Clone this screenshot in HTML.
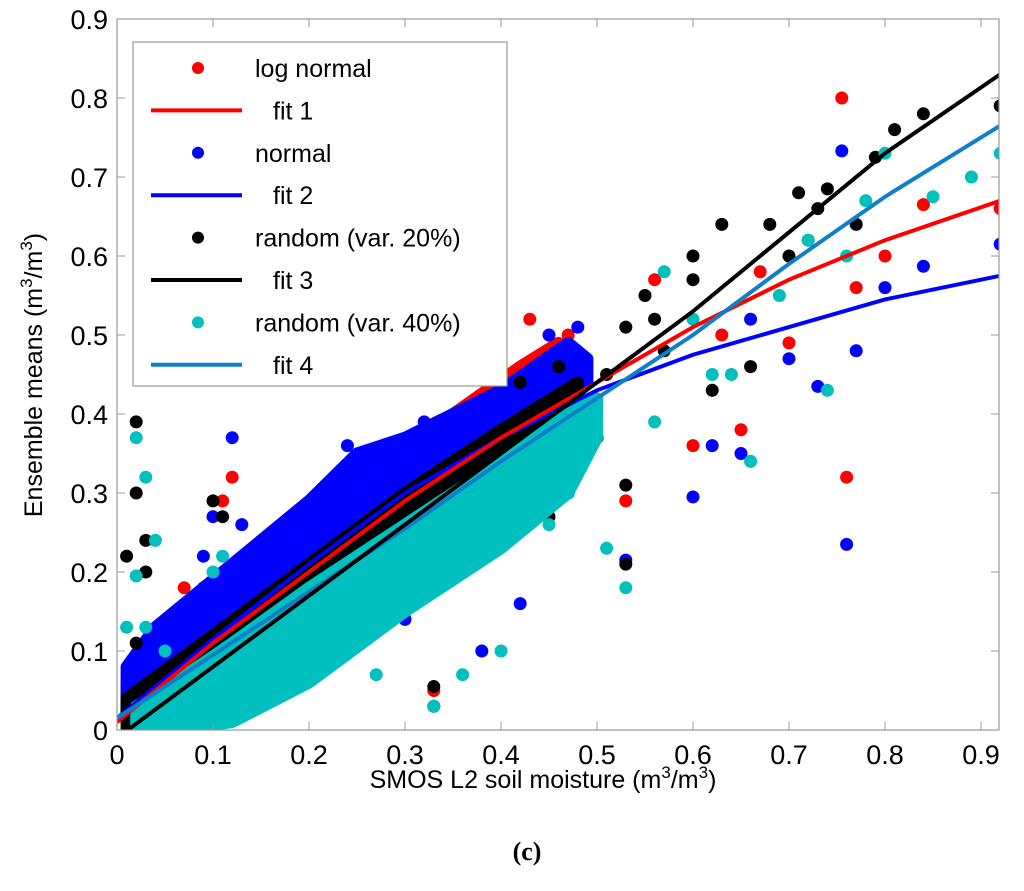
<!DOCTYPE html>
<html><head><meta charset="utf-8"><style>
body{margin:0;background:#fff;}
svg{display:block;font-family:"Liberation Sans",Arial,sans-serif;}
</style></head><body>
<svg id="chart" width="1024" height="891" viewBox="0 0 1024 891">
<defs><clipPath id="pc"><rect x="117" y="19" width="882" height="711"/></clipPath></defs>
<g id="plot" clip-path="url(#pc)"></g>
<rect x="117" y="19" width="882" height="711" fill="none" stroke="#999" stroke-width="1.2"/>
<g id="axes"></g>
<text x="543" y="788" font-size="25" text-anchor="middle">SMOS L2 soil moisture (m<tspan dy="-10" font-size="17">3</tspan><tspan dy="10">/m</tspan><tspan dy="-10" font-size="17">3</tspan><tspan dy="10">)</tspan></text>
<text transform="translate(42,375) rotate(-90)" font-size="25" text-anchor="middle">Ensemble means (m<tspan dy="-10" font-size="17">3</tspan><tspan dy="10">/m</tspan><tspan dy="-10" font-size="17">3</tspan><tspan dy="10">)</tspan></text>
<text x="527" y="860" font-size="26" font-weight="bold" text-anchor="middle" font-family="Liberation Serif,serif">(c)</text>
<g id="legend"></g>
</svg>
<script>
const ticks=[0,0.1,0.2,0.3,0.4,0.5,0.6,0.7,0.8,0.9];
const tickLabels=["0","0.1","0.2","0.3","0.4","0.5","0.6","0.7","0.8","0.9"];
const fitX=[0,0.1,0.2,0.3,0.4,0.5,0.6,0.7,0.8,0.92];
const fit1=[0.01,0.11,0.2,0.29,0.37,0.44,0.51,0.57,0.62,0.67];
const fit2=[0.015,0.115,0.21,0.30,0.37,0.43,0.475,0.51,0.545,0.575];
const fit3=[-0.01,0.08,0.17,0.26,0.35,0.44,0.53,0.63,0.73,0.83];
const fit4=[0.015,0.095,0.175,0.255,0.34,0.42,0.5,0.59,0.675,0.765];
const redBandX=[0.01,0.05,0.1,0.2,0.25,0.35,0.42,0.46,0.48];
const redBandUp=[0.06,0.12,0.19,0.29,0.33,0.4,0.46,0.49,0.47];
const redBandLo=[0.01,0.04,0.09,0.18,0.23,0.32,0.38,0.42,0.44];
const blueBandX=[0.01,0.04,0.1,0.2,0.25,0.3,0.4,0.47,0.49];
const blueBandUp=[0.08,0.13,0.19,0.29,0.35,0.37,0.43,0.49,0.47];
const blueBandLo=[0.01,0.04,0.08,0.17,0.22,0.27,0.36,0.42,0.44];
const blackBandX=[0.01,0.1,0.2,0.3,0.4,0.48];
const blackBandUp=[0.04,0.12,0.21,0.3,0.38,0.44];
const blackBandLo=[0.0,0.07,0.16,0.25,0.34,0.42];
const cyanBandX=[0.02,0.06,0.12,0.2,0.3,0.4,0.47,0.5];
const cyanBandUp=[0.03,0.06,0.11,0.18,0.26,0.34,0.4,0.42];
const cyanBandLo=[0.0,0.0,0.01,0.06,0.15,0.23,0.3,0.37];
const redX=[0.755,0.76,0.84,0.92,0.77,0.8,0.65,0.6,0.53,0.12,0.11,0.33,0.7,0.63,0.72,0.67,0.56,0.43,0.47,0.02,0.07,0.09];
const redY=[0.80,0.32,0.665,0.66,0.56,0.6,0.38,0.36,0.29,0.32,0.29,0.05,0.49,0.5,0.62,0.58,0.57,0.52,0.5,0.05,0.18,0.18];
const blueX=[0.76,0.755,0.92,0.84,0.8,0.73,0.77,0.6,0.65,0.53,0.12,0.13,0.09,0.42,0.38,0.1,0.66,0.62,0.7,0.45,0.48,0.24,0.32,0.02,0.3];
const blueY=[0.235,0.733,0.615,0.587,0.56,0.435,0.48,0.295,0.35,0.215,0.37,0.26,0.22,0.16,0.1,0.27,0.52,0.36,0.47,0.5,0.51,0.36,0.39,0.06,0.14];
const blackX=[0.92,0.84,0.81,0.79,0.74,0.71,0.73,0.68,0.63,0.6,0.55,0.53,0.51,0.6,0.46,0.42,0.02,0.02,0.03,0.03,0.01,0.02,0.1,0.11,0.33,0.33,0.53,0.45,0.47,0.53,0.5,0.57,0.77,0.66,0.62,0.56,0.7];
const blackY=[0.79,0.78,0.76,0.725,0.685,0.68,0.66,0.64,0.64,0.6,0.55,0.51,0.45,0.57,0.46,0.44,0.39,0.3,0.24,0.2,0.22,0.11,0.29,0.27,0.055,0.03,0.21,0.27,0.3,0.31,0.37,0.48,0.64,0.46,0.43,0.52,0.6];
const cyanX=[0.92,0.89,0.85,0.8,0.78,0.72,0.74,0.66,0.64,0.6,0.57,0.53,0.51,0.47,0.45,0.4,0.36,0.33,0.02,0.03,0.02,0.04,0.01,0.1,0.11,0.16,0.22,0.27,0.56,0.62,0.69,0.76,0.03,0.05];
const cyanY=[0.73,0.7,0.675,0.73,0.67,0.62,0.43,0.34,0.45,0.52,0.58,0.18,0.23,0.3,0.26,0.1,0.07,0.03,0.37,0.32,0.195,0.24,0.13,0.2,0.22,0.07,0.1,0.07,0.39,0.45,0.55,0.6,0.13,0.1];

const NS="http://www.w3.org/2000/svg";
const X0=117,PX=960,Y0=730,PY=790;
function sx(v){return X0+v*PX;}
function sy(v){return Y0-v*PY;}
function mk(tag,attrs,parent){const e=document.createElementNS(NS,tag);for(const k in attrs)e.setAttribute(k,attrs[k]);parent.appendChild(e);return e;}
const plot=document.getElementById('plot'),axes=document.getElementById('axes'),leg=document.getElementById('legend');

function band(bx,up,lo,col,name){
  let pts=[];for(let i=0;i<bx.length;i++)pts.push(sx(bx[i])+','+sy(up[i]));
  for(let i=bx.length-1;i>=0;i--)pts.push(sx(bx[i])+','+sy(lo[i]));
  const p=mk('polygon',{points:pts.join(' '),fill:col,stroke:col,'stroke-width':12,'stroke-linejoin':'round'},plot);
  
  
}
function dots(xs,ys,col,name){
  for(let i=0;i<xs.length;i++){
    const c=mk('circle',{cx:sx(xs[i]),cy:sy(ys[i]),r:6.5,fill:col},plot);
    
    
  }
}
function line(ys,col,name){
  const d=fitX.map((x,i)=>(i?'L':'M')+sx(x)+','+sy(ys[i])).join(' ');
  const p=mk('path',{d:d,fill:'none',stroke:col,'stroke-width':4},plot);
  
  
}
band(redBandX,redBandUp,redBandLo,'#ff0000','red-cloud');
dots(redX,redY,'#ff0000','red-point');
band(blueBandX,blueBandUp,blueBandLo,'#0000ff','blue-cloud');
dots(blueX,blueY,'#0000ff','blue-point');
band(blackBandX,blackBandUp,blackBandLo,'#000000','black-cloud');
dots(blackX,blackY,'#000000','black-point');
band(cyanBandX,cyanBandUp,cyanBandLo,'#00bfbf','cyan-cloud');
dots(cyanX,cyanY,'#00bfbf','cyan-point');
line(fit2,'#0000ff','fit-2-line');
line(fit1,'#ff0000','fit-1-line');
line(fit4,'#0f80c8','fit-4-line');
line(fit3,'#000000','fit-3-line');

ticks.forEach((t,i)=>{
  const x=sx(t),y=sy(t);
  const a=mk('path',{d:`M${x},730 v-8 M${x},19 v8 M117,${y} h8 M999,${y} h-8`,stroke:'#999','stroke-width':1},axes);
  
  
  const tx=mk('text',{x:x,y:764,'font-size':27,'text-anchor':'middle'},axes);tx.textContent=tickLabels[i];
  
  
  const ty=mk('text',{x:108,y:y+10,'font-size':27,'text-anchor':'end'},axes);ty.textContent=tickLabels[i];
  
  
});

const lb=mk('rect',{x:133,y:42,width:374,height:344,fill:'#fff',stroke:'#999','stroke-width':1.2},leg);


const legLabels=["log normal","fit 1","normal","fit 2","random (var. 20%)","fit 3","random (var. 40%)","fit 4"];
const legCols=['#ff0000','#ff0000','#0000ff','#0000ff','#000000','#000000','#00bfbf','#0f80c8'];
legLabels.forEach((lab,i)=>{
  const y=68+i*42.4,isLine=i%2==1;
  if(isLine){const l=mk('line',{x1:151,x2:242,y1:y,y2:y,stroke:legCols[i],'stroke-width':4},leg);
    
    }
  else{const c=mk('circle',{cx:198,cy:y,r:6,fill:legCols[i]},leg);
    
    }
  const t=mk('text',{x:isLine?273:255,y:y+9,'font-size':25},leg);t.textContent=lab;
  
  
});
</script>
</body></html>
